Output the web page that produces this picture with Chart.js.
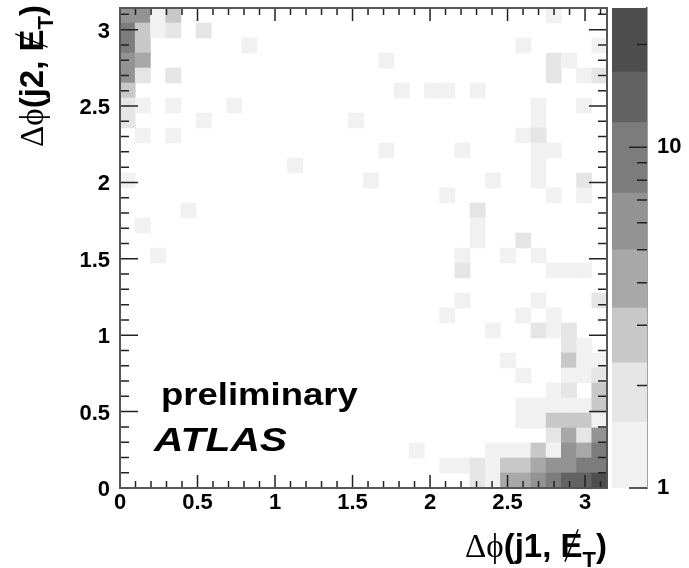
<!DOCTYPE html>
<html>
<head>
<meta charset="utf-8">
<script src="https://cdn.jsdelivr.net/npm/chart.js@4.4.1/dist/chart.umd.min.js"></script>
<style>
  html, body { margin: 0; padding: 0; background: #fff; }
  #wrap { position: relative; width: 689px; height: 568px; }
  #wrap canvas { position: absolute; top: 0; }
  #hist { left: 0; }
  #zbar { left: 600px; }
</style>
</head>
<body>
<div id="wrap">
  <canvas id="hist" width="689" height="568"></canvas>
  <canvas id="zbar" width="89" height="568"></canvas>
</div>
<script>
// Binning: 32 x 32 bins, both axes from 0 to pi
var nBins = 32;
var binWidth = Math.PI / nBins;

// Filled bins, listed from the top row (y bin 31) down to y bin 0
var binX = [
  0, 1, 2, 3, 28,
  0, 1, 2, 3, 5,
  0, 1, 8, 26, 31,
  0, 1, 17, 28, 29,
  0, 1, 3, 28, 30, 31,
  0, 18, 20, 21, 23,
  0, 1, 3, 7, 27, 30,
  0, 5, 15, 27,
  1, 3, 26, 27,
  17, 22, 27, 28,
  11, 27,
  0, 16, 24, 27, 30,
  21, 28, 30,
  4, 23,
  1, 23,
  23, 26,
  2, 22, 25, 27,
  22, 28, 29, 30,
  22, 27, 31,
  21, 26, 28,
  24, 27, 28, 29,
  29, 30,
  25, 29, 30, 31,
  26, 29, 30, 31,
  28, 29, 31,
  26, 27, 28, 29, 30, 31,
  26, 27, 28, 29, 30, 31,
  28, 29, 30, 31,
  19, 24, 25, 26, 27, 28, 29, 30, 31,
  21, 22, 23, 24, 25, 26, 27, 28, 29, 30, 31,
  23, 24, 25, 26, 27, 28, 29, 30, 31
];
var binY = [
  31, 31, 31, 31, 31,
  30, 30, 30, 30, 30,
  29, 29, 29, 29, 29,
  28, 28, 28, 28, 28,
  27, 27, 27, 27, 27, 27,
  26, 26, 26, 26, 26,
  25, 25, 25, 25, 25, 25,
  24, 24, 24, 24,
  23, 23, 23, 23,
  22, 22, 22, 22,
  21, 21,
  20, 20, 20, 20, 20,
  19, 19, 19,
  18, 18,
  17, 17,
  16, 16,
  15, 15, 15, 15,
  14, 14, 14, 14,
  12, 12, 12,
  11, 11, 11,
  10, 10, 10, 10,
  9, 9,
  8, 8, 8, 8,
  7, 7, 7, 7,
  6, 6, 6,
  5, 5, 5, 5, 5, 5,
  4, 4, 4, 4, 4, 4,
  3, 3, 3, 3,
  2, 2, 2, 2, 2, 2, 2, 2, 2,
  1, 1, 1, 1, 1, 1, 1, 1, 1, 1, 1,
  0, 0, 0, 0, 0, 0, 0, 0, 0
];
var binCount = [
  6, 6, 1, 3, 1,
  9, 3, 1, 2, 2,
  9, 3, 1, 1, 1,
  6, 4, 1, 2, 1,
  6, 2, 2, 2, 1, 2,
  3, 1, 1, 1, 1,
  2, 1, 1, 1, 1, 1,
  2, 1, 1, 1,
  1, 1, 1, 2,
  1, 1, 1, 1,
  1, 1,
  1, 1, 1, 1, 2,
  1, 1, 1,
  1, 2,
  1, 1,
  1, 2,
  1, 1, 1, 1,
  2, 1, 1, 1,
  1, 1, 2,
  1, 1, 1,
  1, 2, 1, 2,
  2, 1,
  1, 3, 1, 1,
  1, 1, 1, 2,
  1, 2, 3,
  1, 1, 1, 1, 1, 3,
  1, 1, 3, 3, 3, 1,
  2, 4, 2, 6,
  1, 1, 1, 1, 3, 1, 6, 4, 9,
  1, 1, 2, 1, 3, 3, 4, 6, 6, 9, 9,
  2, 1, 4, 4, 6, 9, 14, 14, 20
];

// Z palette (log scale): contour edges and their gray fills
var zLevels = [1, 1.56, 2.33, 3.37, 5, 7.33, 11.8, 16.6, 25.6];
var zColors = ['#f1f1f1', '#e5e5e5', '#c8c8c8', '#a8a8a8', '#939393', '#7c7c7c', '#636363', '#4e4e4e'];

// Tick labels
var axisTicks = [0, 0.5, 1, 1.5, 2, 2.5, 3];
var zTickLabels = [1, 10];
var zMinorTicks = [2, 3, 4, 5, 6, 7, 8, 9, 20];

var fontFamily = '"Liberation Sans", Arial, Helvetica, sans-serif';
Chart.defaults.font.family = fontFamily;
Chart.defaults.color = '#000';

function colorFor(count) {
  for (var k = zColors.length - 1; k >= 0; k--) {
    if (count >= zLevels[k]) return zColors[k];
  }
  return 'rgba(0,0,0,0)';
}

// Keep the plot frame where the layout puts it (no extra room for end labels)
function noEdgePadding(s) {
  s.paddingTop = 0;
  s.paddingBottom = 0;
  s.paddingLeft = 0;
  s.paddingRight = 0;
}

// Draws "Δϕ(jN, E̸T)" right-aligned so that it ends at the local origin
function drawDeltaPhiTitle(ctx, jetLabel, size) {
  var bold = 'bold ' + size + 'px ' + fontFamily;
  var greek = size + 'px "Liberation Serif", "DejaVu Serif", serif';
  var subFont = 'bold ' + Math.round(size * 0.68) + 'px ' + fontFamily;
  var pieces = [
    { text: '\u0394\u03d5', font: greek, dy: 0 },
    { text: '(' + jetLabel + ', ', font: bold, dy: 0 },
    { text: 'E', font: bold, dy: 0, slash: true },
    { text: 'T', font: subFont, dy: size * 0.3 },
    { text: ')', font: bold, dy: 0 }
  ];
  var total = 0;
  pieces.forEach(function (p) {
    ctx.font = p.font;
    p.w = ctx.measureText(p.text).width;
    total += p.w;
  });
  var x = -total;
  ctx.textAlign = 'left';
  ctx.textBaseline = 'alphabetic';
  ctx.fillStyle = '#000';
  ctx.strokeStyle = '#000';
  pieces.forEach(function (p) {
    ctx.font = p.font;
    ctx.fillText(p.text, x, p.dy);
    if (p.slash) {
      ctx.beginPath();
      ctx.lineWidth = 1.4;
      ctx.moveTo(x + p.w * 0.2, size * 0.14);
      ctx.lineTo(x + p.w * 0.8, -size * 0.84);
      ctx.stroke();
    }
    x += p.w;
  });
}

// Frame and inward tick marks, ROOT style
var frameTicks = {
  id: 'frameTicks',
  afterDatasetsDraw: function (chart) {
    var ctx = chart.ctx, a = chart.chartArea;
    var xs = chart.scales.x, ys = chart.scales.y;
    ctx.save();
    ctx.strokeStyle = '#222';
    ctx.lineWidth = 1.5;
    ctx.beginPath();
    for (var k = 0; k <= 31; k++) {
      var v = k / 10;
      var major = k % 5 === 0;
      var px = xs.getPixelForValue(v);
      var lx = major ? 13 : 7;
      ctx.moveTo(px, a.bottom); ctx.lineTo(px, a.bottom - lx);
      ctx.moveTo(px, a.top); ctx.lineTo(px, a.top + lx);
      var py = ys.getPixelForValue(v);
      var ly = major ? 18 : 9;
      ctx.moveTo(a.left, py); ctx.lineTo(a.left + ly, py);
      ctx.moveTo(a.right, py); ctx.lineTo(a.right - ly, py);
    }
    ctx.stroke();
    ctx.lineWidth = 2;
    ctx.strokeStyle = '#555';
    ctx.strokeRect(a.left, a.top, a.width, a.height);
    ctx.restore();
  }
};

// Labels: "preliminary", "ATLAS" and the two axis titles
var labelText = {
  id: 'labelText',
  afterDraw: function (chart) {
    var ctx = chart.ctx, a = chart.chartArea;
    var xs = chart.scales.x, ys = chart.scales.y;
    ctx.save();
    ctx.fillStyle = '#000';
    ctx.textBaseline = 'alphabetic';
    ctx.textAlign = 'left';

    ctx.save();
    ctx.translate(xs.getPixelForValue(0.265), ys.getPixelForValue(0.545));
    ctx.scale(1.14, 1);
    ctx.font = 'bold 32px ' + fontFamily;
    ctx.fillText('preliminary', 0, 0);
    ctx.restore();

    ctx.save();
    ctx.translate(xs.getPixelForValue(0.22), ys.getPixelForValue(0.245));
    ctx.scale(1.2, 1);
    ctx.font = 'italic bold 34px ' + fontFamily;
    ctx.fillText('ATLAS', 0, 0);
    ctx.restore();

    ctx.save();
    ctx.translate(a.right, a.bottom + 69);
    drawDeltaPhiTitle(ctx, 'j1', 33);
    ctx.restore();

    ctx.save();
    ctx.translate(a.left - 77, a.top - 3);
    ctx.rotate(-Math.PI / 2);
    drawDeltaPhiTitle(ctx, 'j2', 33);
    ctx.restore();

    ctx.restore();
  }
};

var histData = binX.map(function (ix, i) {
  return { x: (ix + 0.5) * binWidth, y: [binY[i] * binWidth, (binY[i] + 1) * binWidth] };
});

var tickFont = { size: 22, weight: 'bold' };

new Chart(document.getElementById('hist'), {
  type: 'bar',
  data: {
    datasets: [{
      data: histData,
      backgroundColor: function (c) { return colorFor(binCount[c.dataIndex]); },
      borderWidth: 0,
      categoryPercentage: 1,
      barPercentage: 1
    }]
  },
  options: {
    responsive: false,
    animation: false,
    layout: { padding: { left: 0, right: 82, top: 8, bottom: 0 } },
    plugins: { legend: { display: false }, tooltip: { enabled: false } },
    scales: {
      x: {
        type: 'linear',
        min: 0,
        max: Math.PI,
        offset: false,
        grid: { display: false, drawTicks: false },
        border: { display: false },
        afterFit: function (s) { s.height = 80; noEdgePadding(s); },
        afterBuildTicks: function (s) { s.ticks = axisTicks.map(function (v) { return { value: v }; }); },
        ticks: { font: tickFont, padding: 2, maxRotation: 0, autoSkip: false, callback: function (v) { return String(v); } }
      },
      y: {
        type: 'linear',
        min: 0,
        max: Math.PI,
        grid: { display: false, drawTicks: false },
        border: { display: false },
        afterFit: function (s) { s.width = 120; noEdgePadding(s); },
        afterBuildTicks: function (s) { s.ticks = axisTicks.map(function (v) { return { value: v }; }); },
        ticks: { font: tickFont, padding: 10, labelOffset: 2, autoSkip: false, callback: function (v) { return String(v); } }
      }
    }
  },
  plugins: [frameTicks, labelText]
});

// Colour scale
var zTicks = {
  id: 'zTicks',
  afterDatasetsDraw: function (chart) {
    var ctx = chart.ctx, a = chart.chartArea, ys = chart.scales.y;
    ctx.save();
    ctx.strokeStyle = '#222';
    ctx.lineWidth = 1.5;
    ctx.beginPath();
    zTickLabels.concat(zMinorTicks).forEach(function (v) {
      var py = ys.getPixelForValue(v);
      var len = zTickLabels.indexOf(v) >= 0 ? 18 : 10;
      ctx.moveTo(a.right, py);
      ctx.lineTo(a.right - len, py);
    });
    ctx.stroke();
    ctx.restore();
  }
};

new Chart(document.getElementById('zbar'), {
  type: 'bar',
  data: {
    labels: [''],
    datasets: zColors.map(function (c, k) {
      return {
        data: [[zLevels[k], zLevels[k + 1]]],
        backgroundColor: c,
        borderWidth: 0,
        grouped: false,
        categoryPercentage: 1,
        barPercentage: 1
      };
    })
  },
  options: {
    responsive: false,
    animation: false,
    layout: { padding: { left: 12, right: 0, top: 8, bottom: 80 } },
    plugins: { legend: { display: false }, tooltip: { enabled: false } },
    scales: {
      x: { display: false },
      y: {
        type: 'logarithmic',
        position: 'right',
        min: zLevels[0],
        max: zLevels[zLevels.length - 1],
        grid: { display: false, drawTicks: false },
        border: { display: true, color: '#444', width: 1.5 },
        afterFit: function (s) { s.width = 42; noEdgePadding(s); },
        afterBuildTicks: function (s) { s.ticks = zTickLabels.map(function (v) { return { value: v }; }); },
        ticks: { font: tickFont, padding: 10, autoSkip: false, callback: function (v) { return String(v); } }
      }
    }
  },
  plugins: [zTicks]
});
</script>
</body>
</html>
